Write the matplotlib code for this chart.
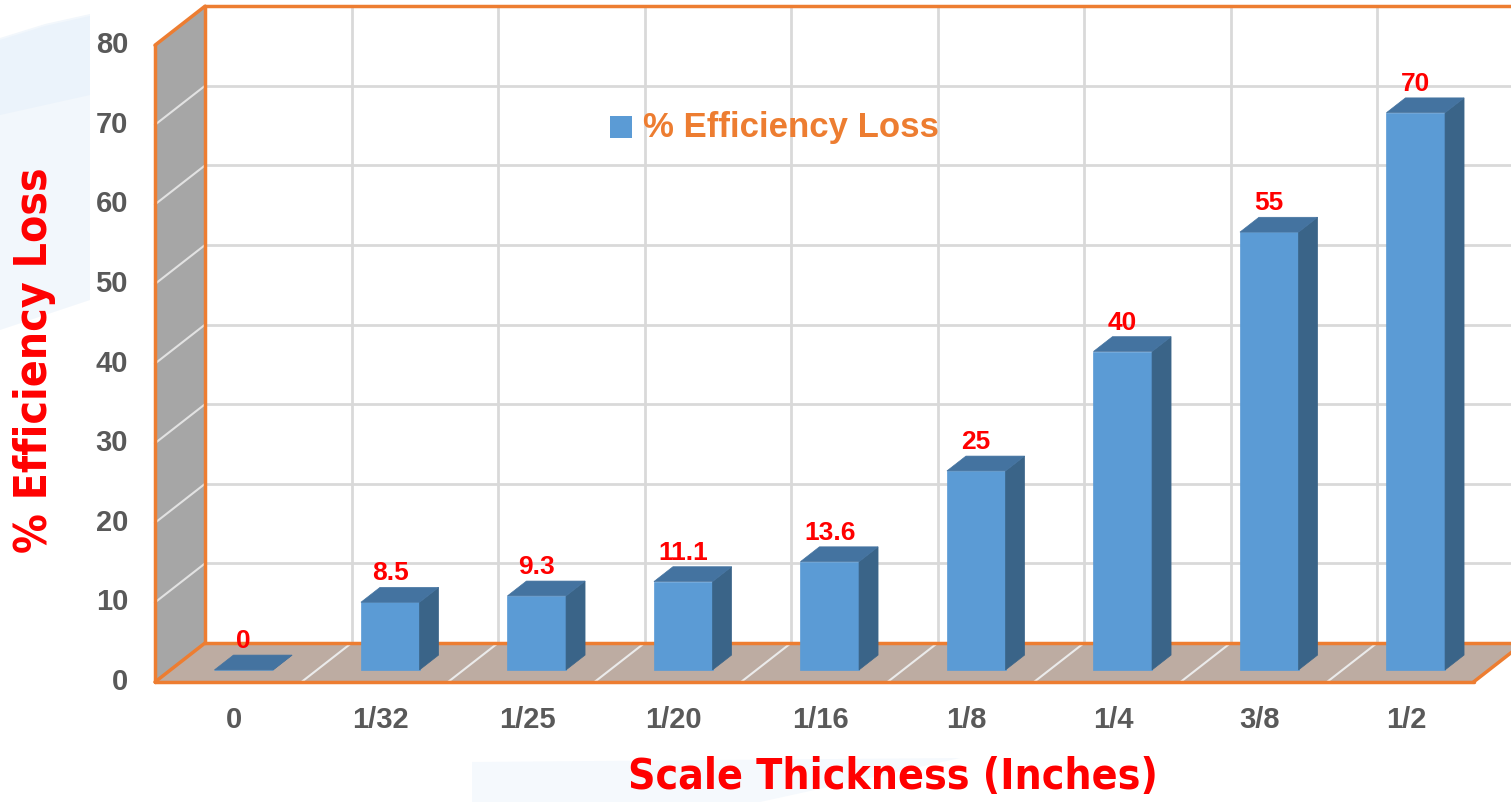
import matplotlib.pyplot as plt
from matplotlib.patches import Polygon
from matplotlib import font_manager
from matplotlib.font_manager import FontProperties

categories = ['0', '1/32', '1/25', '1/20', '1/16', '1/8', '1/4', '3/8', '1/2']
loss = [0, 8.5, 9.3, 11.1, 13.6, 25, 40, 55, 70]
value_labels = ['0', '8.5', '9.3', '11.1', '13.6', '25', '40', '55', '70']
y_ticks = [0, 10, 20, 30, 40, 50, 60, 70, 80]
series_name = '% Efficiency Loss'
x_title = 'Scale Thickness (Inches)'
y_title = '% Efficiency Loss'

W, H = 1511, 802
PX_CAT, PX_VAL = 146.5, 7.96      # pixels per category / per value unit
X0_PX, Y0_PX = 155, 682           # front-left corner of the floor
DX, DY = 50 / PX_CAT, 39 / PX_VAL  # full depth offset in data units
D0, D1 = 0.31, 0.69               # bar depth range
HALF = 0.2                        # half bar width
YMAX = y_ticks[-1]
n = len(categories)

ORANGE = '#ed7d31'
GRID = '#d9d9d9'

names = {f.name for f in font_manager.fontManager.ttflist}
SANS = 'Liberation Sans' if 'Liberation Sans' in names else 'DejaVu Sans'

# a bold condensed face for the axis titles, if one is installed
cands = []
for f in font_manager.fontManager.ttflist:
    narrow = ('Condensed' in f.name or 'Narrow' in f.name
              or f.stretch in ('condensed', 'semi-condensed'))
    if narrow and isinstance(f.weight, int) and f.weight >= 700 and f.style == 'normal':
        cands.append((abs(f.weight - 700), f.fname))
if cands:
    TITLE_FP = FontProperties(fname=sorted(cands)[0][1])
else:
    TITLE_FP = FontProperties(family=SANS, weight='bold')


def P(x, v, d):
    return (x + d * DX, v + d * DY)


def px(x, y):
    return (x / W, 1 - y / H)


fig = plt.figure(figsize=(W / 100, H / 100), dpi=100)
ax = fig.add_axes([0, 0, 1, 1])
ax.axis('off')
ax.set_xlim(-0.5 - X0_PX / PX_CAT, -0.5 + (W - X0_PX) / PX_CAT)
ax.set_ylim(-(H - Y0_PX) / PX_VAL, Y0_PX / PX_VAL)

# faint background decoration
for pts, c in [([(0, 38), (45, 24), (90, 14), (90, 300), (0, 330)], '#f2f7fc'),
               ([(0, 40), (45, 26), (90, 16), (90, 95), (0, 115)], '#ebf3fb'),
               ([(472, 762), (960, 758), (760, 802), (472, 802)], '#f5f9fd')]:
    fig.patches.append(Polygon([px(*p) for p in pts], closed=True, transform=fig.transFigure,
                               facecolor=c, edgecolor='none', zorder=0))

# back wall grid
for v in y_ticks[1:-1]:
    a, b = P(-0.5, v, 1), P(n - 0.5, v, 1)
    ax.plot([a[0], b[0]], [a[1], b[1]], color=GRID, lw=2, zorder=1)
for k in range(1, n):
    a, b = P(k - 0.5, 0, 1), P(k - 0.5, YMAX, 1)
    ax.plot([a[0], b[0]], [a[1], b[1]], color=GRID, lw=2, zorder=1)

# left wall
ax.add_patch(Polygon([P(-0.5, 0, 0), P(-0.5, 0, 1), P(-0.5, YMAX, 1), P(-0.5, YMAX, 0)],
                     closed=True, facecolor='#a6a6a6', edgecolor='none', zorder=1))
for v in y_ticks[1:-1]:
    a, b = P(-0.5, v, 0), P(-0.5, v, 1)
    ax.plot([a[0], b[0]], [a[1], b[1]], color='#e2e2e2', lw=1.5, zorder=2)

# floor
ax.add_patch(Polygon([P(-0.5, 0, 0), P(n - 0.5, 0, 0), P(n - 0.5, 0, 1), P(-0.5, 0, 1)],
                     closed=True, facecolor='#bdaca2', edgecolor='none', zorder=2))
for k in range(1, n):
    a, b = P(k - 0.5, 0, 0), P(k - 0.5, 0, 1)
    ax.plot([a[0], b[0]], [a[1], b[1]], color='#ebebeb', lw=1.5, zorder=3)

# orange frame
edges = [
    (P(-0.5, 0, 0), P(-0.5, YMAX, 0)),
    (P(-0.5, YMAX, 0), P(-0.5, YMAX, 1)),
    (P(-0.5, 0, 1), P(-0.5, YMAX, 1)),
    (P(-0.5, YMAX, 1), P(n - 0.5, YMAX, 1)),
    (P(-0.5, 0, 0), P(n - 0.5, 0, 0)),
    (P(-0.5, 0, 1), P(n - 0.5, 0, 1)),
    (P(-0.5, 0, 0), P(-0.5, 0, 1)),
    (P(n - 0.5, 0, 0), P(n - 0.5, 0, 1)),
]
for a, b in edges:
    ax.plot([a[0], b[0]], [a[1], b[1]], color=ORANGE, lw=2.5, zorder=4,
            solid_capstyle='round')

# bars
for i, v in enumerate(loss):
    l, r = i - HALF, i + HALF
    front = [P(l, 0, D0), P(r, 0, D0), P(r, v, D0), P(l, v, D0)]
    top = [P(l, v, D0), P(r, v, D0), P(r, v, D1), P(l, v, D1)]
    side = [P(r, 0, D0), P(r, 0, D1), P(r, v, D1), P(r, v, D0)]
    for pts, c in [(front, '#5b9bd5'), (side, '#3a6488'), (top, '#4473a0')]:
        ax.add_patch(Polygon(pts, closed=True, facecolor=c, edgecolor=c, lw=0.5, zorder=5))
    ax.annotate(value_labels[i], xy=(P(i, v, D0)[0], P(i, v, D1)[1]), xytext=(0, 5),
                textcoords='offset points', ha='center', va='baseline', color='#ff0000',
                fontsize=19, fontweight='bold', family=SANS, zorder=6)

# tick labels
for v in y_ticks:
    ax.text(-0.5 - 27 / PX_CAT, v, str(v), ha='right', va='center', color='#595959',
            fontsize=21, fontweight='bold', family=SANS)
for i, c in enumerate(categories):
    ax.text(i + 0.04, -38 / PX_VAL, c, ha='center', va='center', color='#595959',
            fontsize=21, fontweight='bold', family=SANS)

# legend
fig.patches.append(plt.Rectangle(px(610, 138), 22 / W, 22 / H, transform=fig.transFigure,
                                 facecolor='#5b9bd5', edgecolor='none', zorder=5))
fig.text(*px(643, 128), series_name, ha='left', va='center', color=ORANGE,
         fontsize=25, fontweight='bold', family=SANS)

# axis titles, sized to the reference text length
xt = fig.text(*px(893, 777), x_title, ha='center', va='center', color='#ff0000',
              fontproperties=TITLE_FP.copy())
yt = fig.text(*px(35, 360), y_title, ha='center', va='center', rotation=90, color='#ff0000',
              fontproperties=TITLE_FP.copy())
xt.set_fontsize(39)
yt.set_fontsize(39)
fig.canvas.draw()
r = fig.canvas.get_renderer()
xt.set_fontsize(39 * 530 / xt.get_window_extent(r).width)
yt.set_fontsize(39 * 385 / yt.get_window_extent(r).height)

fig.savefig('out.png', dpi=100)
